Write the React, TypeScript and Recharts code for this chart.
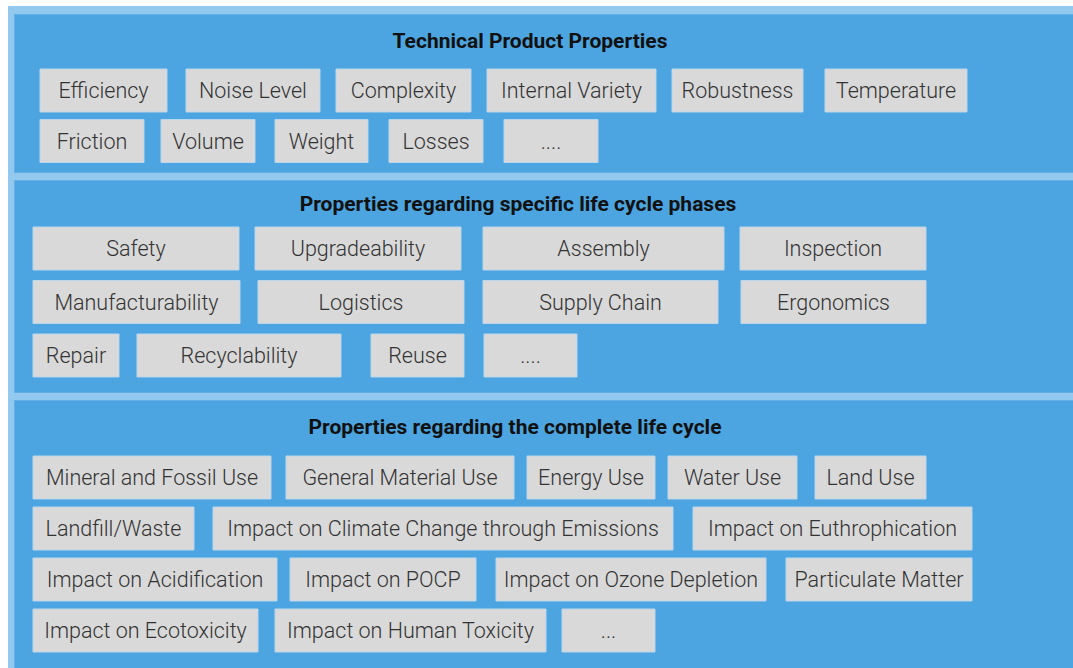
import { BarChart, Bar, XAxis, YAxis, LabelList } from 'recharts'

// section titles
const titles = [
  'Technical Product Properties',
  'Properties regarding specific life cycle phases',
  'Properties regarding the complete life cycle',
]

// box labels, one list per row
const techLabels = [
  ['Efficiency', 'Noise Level', 'Complexity', 'Internal Variety', 'Robustness', 'Temperature'],
  ['Friction', 'Volume', 'Weight', 'Losses', '....'],
]
const phaseLabels = [
  ['Safety', 'Upgradeability', 'Assembly', 'Inspection'],
  ['Manufacturability', 'Logistics', 'Supply Chain', 'Ergonomics'],
  ['Repair', 'Recyclability', 'Reuse', '....'],
]
const cycleLabels = [
  ['Mineral and Fossil Use', 'General Material Use', 'Energy Use', 'Water Use', 'Land Use'],
  ['Landfill/Waste', 'Impact on Climate Change through Emissions', 'Impact on Euthrophication'],
  ['Impact on Acidification', 'Impact on POCP', 'Impact on Ozone Depletion', 'Particulate Matter'],
  ['Impact on Ecotoxicity', 'Impact on Human Toxicity', '...'],
]

// box extents [start, end] along the horizontal axis
const techSpans = [
  [[40, 167], [186, 320], [336, 471], [487, 656], [672, 803], [825, 967]],
  [[40, 144], [161, 255], [275, 368], [389, 483], [504, 598]],
]
const phaseSpans = [
  [[33, 239], [255, 461], [483, 724], [740, 926]],
  [[33, 240], [258, 464], [483, 718], [741, 926]],
  [[33, 119], [137, 341], [371, 464], [484, 577]],
]
const cycleSpans = [
  [[33, 271], [286, 514], [527, 655], [668, 797], [815, 926]],
  [[33, 194], [213, 673], [693, 972]],
  [[33, 277], [290, 476], [496, 766], [786, 972]],
  [[33, 258], [275, 546], [562, 655]],
]

const W = 1073
const H = 668
const SLOTS = 6
const DARK = '#4ca5e0'
const LIGHT = '#93c9ee'

const buildRows = (labels: string[][], spans: number[][][]) =>
  labels.map((row, i) => {
    const d: Record<string, any> = { row: `r${i}` }
    let prev = 0
    for (let k = 0; k < SLOTS; k++) {
      const s = spans[i][k]
      if (s) {
        d[`gap${k}`] = s[0] - prev
        d[`box${k}`] = s[1] - s[0]
        d[`lab${k}`] = row[k]
        prev = s[1]
      } else {
        d[`gap${k}`] = 0
        d[`box${k}`] = 0
        d[`lab${k}`] = ''
      }
    }
    return d
  })

const sections = [
  { title: titles[0], data: buildRows(techLabels, techSpans), top: 14, bottom: 173, titleY: 41, titleCx: 530, chartTop: 65, pitch: 50.5, barSize: 43 },
  { title: titles[1], data: buildRows(phaseLabels, phaseSpans), top: 180, bottom: 393, titleY: 204, titleCx: 518, chartTop: 222, pitch: 53.5, barSize: 43 },
  { title: titles[2], data: buildRows(cycleLabels, cycleSpans), top: 400, bottom: 690, titleY: 427, titleCx: 515, chartTop: 452, pitch: 51, barSize: 43 },
]

function Section({ s }: { s: (typeof sections)[number] }) {
  const slots = Array.from({ length: SLOTS }, (_, k) => k)
  return (
    <>
      <div
        style={{
          position: 'absolute',
          left: 14,
          top: s.top,
          width: W,
          height: s.bottom - s.top,
          background: DARK,
          boxShadow: 'inset 0 0 0 1px #62b0e6',
        }}
      />
      <div
        style={{
          position: 'absolute',
          left: s.titleCx - 320,
          top: s.titleY - 13,
          width: 640,
          lineHeight: '26px',
          textAlign: 'center',
          fontFamily: 'Roboto, sans-serif',
          fontWeight: 700,
          fontSize: 21,
          color: '#111',
        }}
      >
        {s.title}
      </div>
      <div style={{ position: 'absolute', left: 0, top: s.chartTop }}>
        <BarChart
          width={W}
          height={s.data.length * s.pitch}
          data={s.data}
          layout="vertical"
          margin={{ top: 0, right: 0, bottom: 0, left: 0 }}
          barSize={s.barSize}
        >
          <XAxis type="number" domain={[0, W]} hide />
          <YAxis type="category" dataKey="row" hide />
          {slots.map((k) => [
            <Bar key={`g${k}`} dataKey={`gap${k}`} stackId="s" fill="transparent" isAnimationActive={false} />,
            <Bar
              key={`b${k}`}
              dataKey={`box${k}`}
              stackId="s"
              fill="#d9d9d9"
              stroke="#b9d6ec"
              strokeWidth={1}
              isAnimationActive={false}
            >
              <LabelList
                dataKey={`lab${k}`}
                position="center"
                fill="#333"
                fontSize={21.5}
                fontFamily="Roboto, sans-serif"
                fontWeight={300}
              />
            </Bar>,
          ])}
        </BarChart>
      </div>
    </>
  )
}

export default function App() {
  return (
    <div
      style={{
        position: 'fixed',
        left: 0,
        top: 0,
        width: W,
        height: H,
        overflow: 'hidden',
        background: '#fff',
      }}
    >
      <div style={{ position: 'absolute', left: 8, top: 6, width: W, height: H, background: LIGHT }} />
      {sections.map((s) => (
        <Section key={s.title} s={s} />
      ))}
    </div>
  )
}
